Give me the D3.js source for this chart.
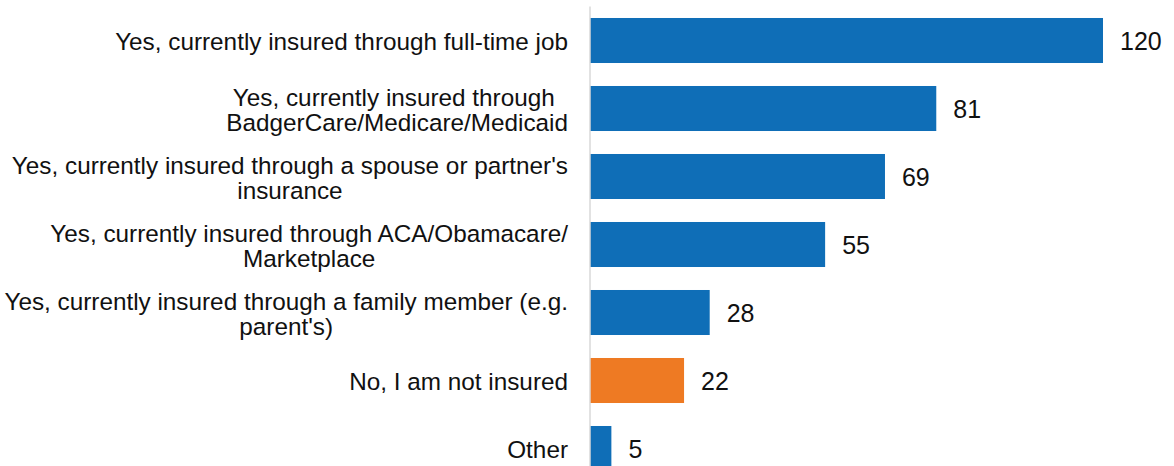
<!DOCTYPE html>
<html>
<head>
<meta charset="utf-8">
<script src="https://cdn.jsdelivr.net/npm/d3@7"></script>
<style>
  html, body { margin: 0; padding: 0; background: #fff; }
  svg { display: block; }
  text { font-family: "Liberation Sans", Arial, sans-serif; fill: #111; }
</style>
</head>
<body>
<svg id="chart" width="1174" height="466"></svg>
<script>
// Insurance status responses (count of respondents)
const categories = [
  "full-time job",
  "BadgerCare/Medicare/Medicaid",
  "spouse or partner",
  "ACA/Obamacare/Marketplace",
  "family member",
  "not insured",
  "other"
];
const categoryLabels = [
  ["Yes, currently insured through full-time job"],
  ["Yes, currently insured through\u00a0", "BadgerCare/Medicare/Medicaid"],
  ["Yes, currently insured through a spouse or partner's", "insurance"],
  ["Yes, currently insured through ACA/Obamacare/", "Marketplace"],
  ["Yes, currently insured through a family member (e.g.", "parent's)"],
  ["No, I am not insured"],
  ["Other"]
];
const counts = [120, 81, 69, 55, 28, 22, 5];
const highlighted = ["not insured"];

const svg = d3.select("#chart");

const x = d3.scaleLinear().domain([0, 120]).range([590, 1103]);
const y = d3.scaleBand()
  .domain(categories)
  .range([6.5, 482.5])
  .paddingInner(0.338)
  .paddingOuter(0.169);

const rows = categories.map((c, i) => ({ key: c, value: counts[i], lines: categoryLabels[i] }));

// bars
svg.append("g").selectAll("rect")
  .data(rows)
  .join("rect")
  .attr("x", x(0))
  .attr("y", d => y(d.key))
  .attr("width", d => x(d.value) - x(0))
  .attr("height", y.bandwidth())
  .attr("fill", d => highlighted.includes(d.key) ? "#EE7A23" : "#0F6EB7");

// category axis line
svg.append("line")
  .attr("x1", x(0)).attr("x2", x(0))
  .attr("y1", y.range()[0]).attr("y2", y.range()[1])
  .attr("stroke", "#D9D9D9")
  .attr("stroke-width", 1.5);

// value labels
svg.append("g").selectAll("text")
  .data(rows)
  .join("text")
  .attr("x", d => x(d.value) + 17)
  .attr("y", d => y(d.key) + y.bandwidth() / 2)
  .attr("dy", "0.36em")
  .style("font-size", "25px")
  .text(d => d.value);

// category labels: lines centred on each other, block right-aligned to the axis
const labelRight = 568;
const lineGap = 25;
const labelG = svg.append("g").selectAll("g")
  .data(rows)
  .join("g");

labelG.each(function (d) {
  const g = d3.select(this);
  const cy = y(d.key) + y.bandwidth() / 2;
  const n = d.lines.length;
  const texts = d.lines.map((line, j) =>
    g.append("text")
      .attr("y", cy + (j - (n - 1) / 2) * lineGap + 1)
      .attr("dy", "0.35em")
      .attr("text-anchor", "middle")
      .style("font-size", "24.3px")
      .text(line)
  );
  const w = d3.max(texts, t => t.node().getComputedTextLength());
  texts.forEach(t => t.attr("x", labelRight - w / 2));
});
</script>
</body>
</html>
